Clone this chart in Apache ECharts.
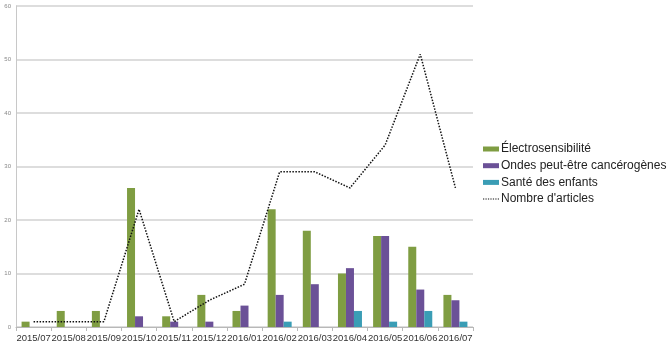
<!DOCTYPE html>
<html>
<head>
<meta charset="utf-8">
<script src="https://cdn.jsdelivr.net/npm/echarts@6/dist/echarts.min.js"></script>
<style>
  html, body { margin: 0; padding: 0; background: #fff; }
  #chart { width: 670px; height: 349px; }
</style>
</head>
<body>
<div id="chart"></div>
<script>
// Monthly counts, July 2015 – July 2016
const months = ['2015/07','2015/08','2015/09','2015/10','2015/11','2015/12','2016/01','2016/02','2016/03','2016/04','2016/05','2016/06','2016/07'];
const electro = [1, 3, 3, 26, 2, 6, 3, 22, 18, 10, 17, 15, 6];
const ondes   = [0, 0, 0, 2, 1, 1, 4, 6, 8, 11, 17, 7, 5];
const sante   = [0, 0, 0, 0, 0, 0, 0, 1, 0, 3, 1, 3, 1];
const articles = [1, 1, 1, 22, 1, 5, 8, 29, 29, 26, 34, 51, 26];
const yTicks = { min: 0, max: 60, step: 10 };

const chart = echarts.init(document.getElementById('chart'));
const font = '"Liberation Sans", Arial, sans-serif';
const legendText = { fontFamily: font, fontSize: 12, color: '#222', lineHeight: 14, padding: [0, 0, 0, -3] };
// small dotted stroke used as the legend key of the line series
const dottedIcon = 'path://M0,0h1v1h-1zM2,0h1v1h-1zM4,0h1v1h-1zM6,0h1v1h-1zM8,0h1v1h-1zM10,0h1v1h-1zM12,0h1v1h-1z';

chart.setOption({
  animation: false,
  textStyle: { fontFamily: font },
  grid: { left: 16, right: 197, top: 6, bottom: 22 },
  legend: [
    {
      orient: 'vertical',
      left: 478,
      top: 137,
      itemWidth: 16,
      itemHeight: 5,
      itemGap: 2.7,
      textStyle: legendText,
      data: [
        { name: 'Électrosensibilité', icon: 'rect' },
        { name: 'Ondes peut-être cancérogènes', icon: 'rect' },
        { name: 'Santé des enfants', icon: 'rect' }
      ]
    },
    {
      orient: 'vertical',
      left: 478,
      top: 187,
      itemWidth: 16,
      itemHeight: 1.5,
      textStyle: legendText,
      data: [{ name: "Nombre d'articles", icon: dottedIcon }]
    }
  ],
  xAxis: {
    type: 'category',
    data: months,
    boundaryGap: true,
    axisLine: { lineStyle: { color: '#b8b8b8', width: 1 } },
    axisTick: { show: true, length: 4, lineStyle: { color: '#b8b8b8' } },
    axisLabel: { color: '#333', fontSize: 9.5, margin: 6, interval: 0, fontFamily: font }
  },
  yAxis: {
    type: 'value',
    min: yTicks.min,
    max: yTicks.max,
    interval: yTicks.step,
    axisLine: { show: true, lineStyle: { color: '#c8c8c8', width: 1 } },
    axisTick: { show: false },
    axisLabel: { color: '#888', fontSize: 6, margin: 5, fontFamily: font },
    splitLine: { lineStyle: { color: '#d2d2d2', width: 1.5 } }
  },
  series: [
    {
      name: 'Électrosensibilité', type: 'bar', data: electro,
      barWidth: 8, barGap: '0%',
      itemStyle: { color: '#7f9d42' }
    },
    {
      name: 'Ondes peut-être cancérogènes', type: 'bar', data: ondes,
      barWidth: 8, barGap: '0%',
      itemStyle: { color: '#6b5197' }
    },
    {
      name: 'Santé des enfants', type: 'bar', data: sante,
      barWidth: 8, barGap: '0%',
      itemStyle: { color: '#3a9db5' }
    },
    {
      name: "Nombre d'articles", type: 'line', data: articles,
      symbol: 'none',
      itemStyle: { color: '#111' },
      lineStyle: { color: '#111', width: 1.5, type: [1.5, 1.5] }
    }
  ]
});
</script>
</body>
</html>
